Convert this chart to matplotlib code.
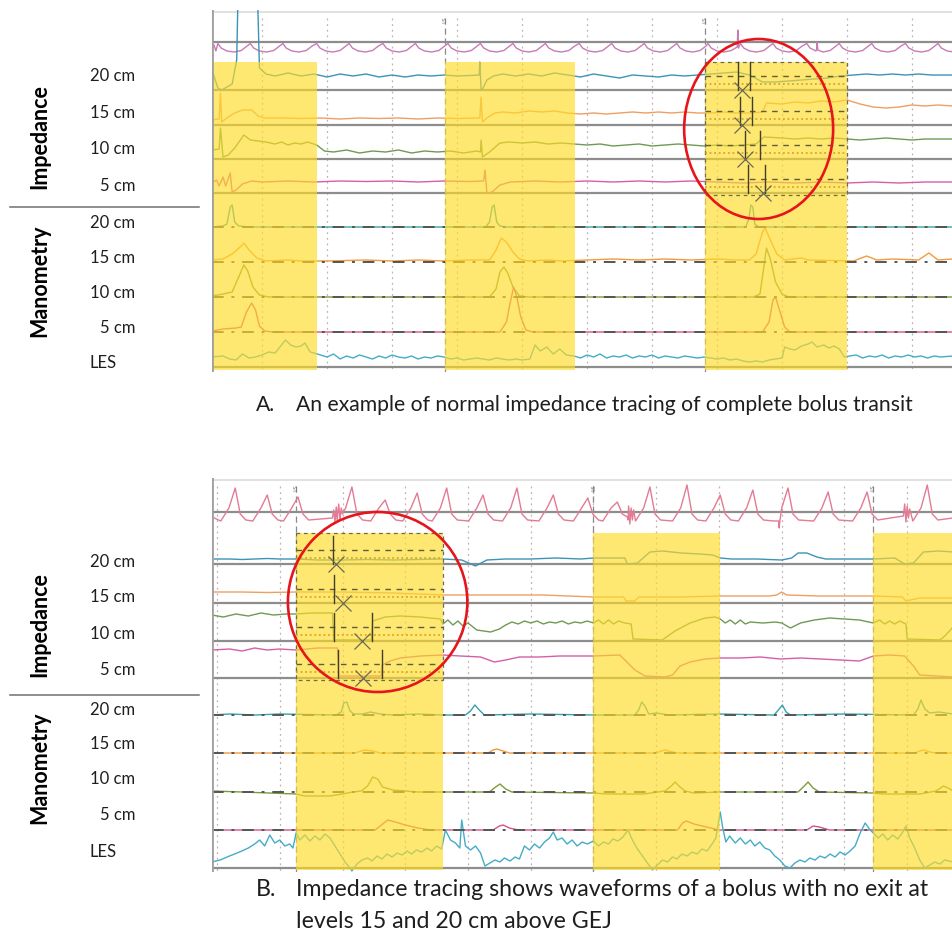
import numpy as np
import matplotlib.pyplot as plt
from matplotlib.patches import Ellipse, Rectangle

plt.rcParams['font.family'] = ['Lato', 'DejaVu Sans']

W, H = 953, 935

# ---------------- panel A (time in s, deflection above each channel line) ----------------
a_grid = [0, 5, 10, 15, 20, 25, 30, 35, 40, 45, 50]
a_ls = [14.07, 34.07]
a_bolus = [(-3.85, 4.2), (14.07, 24.07), (34.07, 45.0)]

a_beats = [-3.4, -0.9, 1.6, 4.2, 6.7, 9.3, 11.8, 14.3, 16.8, 19.3, 21.8, 24.4, 26.9,
           29.4, 31.9, 34.3, 36.8, 39.3, 41.9, 44.4, 46.9, 49.5, 52.0]
a_beat_shape = [(0.0, -1.5), (0.25, -6), (0.7, -9), (1.25, -10), (1.8, -8.5), (2.25, -4)]
a_resp_extra = [(-3.85, -6), (-3.7, -3), (-3.55, -9), (36.55, -5), (36.6, 12), (36.65, -6),
                (42.65, -8), (42.7, 0), (42.75, -8)]

a_imp20 = [(-3.85, 20), (-3.4, 2), (-3.1, 0), (-2.3, 6), (-1.95, 30), (-1.85, 95), (-0.35, 95),
           (-0.2, 22), (0.3, 16), (1, 14), (2, 17), (3, 14), (4, 16), (5, 13), (6, 16), (7, 14),
           (8, 16), (9, 13), (10, 15), (11, 13), (12, 15), (13, 14), (14, 15), (15, 14),
           (16, 14.5), (16.7, 15), (16.75, 28), (16.85, 0), (17.0, 2), (17.3, 10), (17.8, 14),
           (18.5, 16), (19.5, 14), (20.5, 16), (21.5, 14), (22.5, 17), (23.5, 15), (24.5, 13),
           (25.5, 16), (26.5, 14), (27.5, 12), (28.5, 15), (29.5, 14), (30.5, 13), (31.5, 15),
           (32.5, 14), (33.5, 15), (34.5, 16), (35.5, 17), (36.5, 18), (37.5, 15), (38.5, 8),
           (39.5, 8), (40.5, 9), (41.5, 10), (42.5, 11), (43.5, 12), (44.5, 14), (45.5, 15),
           (46.5, 16), (47.5, 15), (48.5, 16), (49.5, 15), (50.5, 16), (51.5, 15), (53.15, 15)]
a_imp15 = [(-3.85, 5), (-3.3, 6), (-3.2, 32), (-3.1, 3), (-2.6, 8), (-2.1, 12), (-1.5, 15),
           (-0.8, 15), (-0.3, 9), (0.2, 7), (1.5, 7), (3, 6.5), (4.5, 7), (6, 6), (7.5, 7),
           (9, 6.5), (10.5, 7), (12, 6), (13.5, 7), (15, 6.5), (16.75, 7), (16.85, 28),
           (16.95, 3), (17.4, 8), (17.9, 12), (18.5, 13), (19.5, 12), (20.5, 14), (21.5, 13),
           (22.5, 14), (23.5, 12), (24.5, 11), (25.5, 12), (26.5, 11), (27.5, 12), (28.5, 13),
           (29.5, 12), (30.5, 13), (31.5, 12), (32.5, 13), (33.5, 12), (34.5, 12), (35.5, 13),
           (36.5, 12), (37.5, 12), (38.5, 13), (38.8, 22), (40, 21), (41, 23), (42, 22),
           (43, 24), (44, 23), (45, 25), (46, 21), (47, 18), (48, 17), (49, 18), (50, 20),
           (51, 19), (52, 20), (53.15, 19)]
a_imp10 = [(-3.85, 9), (-3.3, 10), (-3.2, 31), (-3.0, 2), (-2.6, 4), (-2.1, 11), (-1.4, 24),
           (-0.9, 19), (-0.3, 18), (0.3, 17), (1, 15), (1.5, 17), (2, 14), (2.5, 16), (3, 15),
           (3.5, 17), (4.2, 14), (4.8, 8), (5.5, 7), (6.5, 9), (7.5, 6), (8.5, 8), (9.5, 7),
           (10.5, 9), (11.5, 6), (12.5, 8), (13.5, 7), (14.5, 8), (15.5, 6), (16.5, 8),
           (16.8, 7), (16.85, 19), (16.95, 2), (17.5, 7), (18.3, 16), (19, 17), (20, 16),
           (21, 17), (22, 15), (23, 16), (24, 15), (25, 14), (26, 15), (27, 13), (28, 14),
           (29, 15), (30, 13), (31, 14), (32, 15), (33, 14), (34, 13), (35, 14), (36, 13),
           (37, 14), (38, 15), (38.6, 22), (40, 21), (41, 20), (42, 21), (43, 20), (44, 21),
           (45, 20), (46, 19), (47, 20), (48, 21), (49, 20), (50, 19), (51, 20), (53.15, 20)]
a_imp5 = [(-3.85, 10), (-3.5, 13), (-3.3, 7), (-3.0, 16), (-2.8, 7), (-2.45, 20), (-2.3, 1),
          (-2.0, 3), (-1.5, 9), (-0.8, 12), (0, 11), (2, 12), (4, 11), (6, 12), (8, 11.5),
          (10, 12), (12, 11), (14, 12), (16, 11.5), (17.05, 12), (17.15, 23), (17.3, 0),
          (17.7, 1), (18.3, 8), (19.1, 11), (21, 12), (23, 11), (25, 12), (27, 11), (29, 12),
          (31, 11), (33, 12), (35, 11), (37, 10), (39, 11), (41, 10), (43, 11), (45, 10),
          (47, 11), (49, 10), (51, 11), (53.15, 11)]

a_man20 = [(-3.85, 0), (-3.0, 1), (-2.7, 3), (-2.45, 20), (-2.3, 22), (-2.1, 5), (-1.8, 1),
           (-1.0, 0), (17.2, 0), (17.5, 5), (17.7, 20), (17.85, 22), (18.05, 5), (18.3, 1),
           (18.8, 0), (37.2, 0), (37.45, 8), (37.6, 22), (37.75, 20), (37.9, 3), (38.2, 0),
           (53.15, 0)]
a_man15 = [(-3.85, 2), (-3.0, 3), (-2.3, 8), (-1.6, 16), (-1.4, 19), (-1.0, 12), (-0.4, 4),
           (0.3, 1), (2, 2), (3, 1), (5, 1), (8, 2), (10, 1), (12, 2), (14, 1), (16, 2),
           (17.5, 2), (18.0, 12), (18.4, 24), (18.8, 20), (19.3, 10), (19.8, 3), (20.5, 1),
           (22, 2), (23, 1), (25, 2), (27, 3), (29, 2), (31, 3), (33, 2), (35, 3), (36.5, 2),
           (37.5, 2), (38.0, 8), (38.5, 30), (38.7, 34), (39.1, 22), (39.6, 8), (40.2, 2),
           (41.5, 4), (42, 2), (45.5, 1), (46.5, 6), (47.3, 2), (48.5, 3), (50.5, 2),
           (51.3, 9), (52.0, 2), (53.15, 3)]
a_man10 = [(-3.85, 1), (-3.0, 3), (-2.3, 5), (-1.8, 20), (-1.4, 32), (-1.1, 26), (-0.7, 10),
           (-0.2, 2), (0.5, 0), (17.5, 0), (18.0, 8), (18.3, 25), (18.6, 30), (18.9, 24),
           (19.3, 10), (19.8, 1), (20.5, 0), (37.8, 0), (38.3, 3), (38.6, 30), (38.8, 49),
           (39.1, 38), (39.5, 15), (40.0, 3), (40.5, 0), (53.15, 0)]
a_man5 = [(-3.85, 1), (-3.0, 3), (-2.0, 4), (-1.6, 5), (-1.2, 20), (-0.8, 29), (-0.5, 22),
          (-0.2, 6), (0.2, 1), (0.8, 0), (18.3, 0), (18.8, 10), (19.1, 30), (19.35, 45),
          (19.6, 35), (19.9, 15), (20.3, 2), (20.8, 0), (38.5, 0), (39.0, 10), (39.3, 32),
          (39.5, 35), (39.8, 22), (40.2, 5), (40.6, 0), (53.15, 0)]
a_les = [(-3.85, 10), (-3, 11), (-2.5, 8), (-2, 7), (-1.5, 13), (-1, 9), (-0.5, 10), (0, 12),
         (0.5, 15), (1, 14), (1.5, 22), (1.8, 27), (2.2, 22), (2.6, 20), (3, 21), (3.3, 24),
         (3.7, 15), (4, 14), (4.5, 12), (5, 10), (5.5, 13), (6, 8), (6.5, 11), (7, 9),
         (7.5, 12), (8, 10), (8.5, 8), (9, 11), (9.5, 9), (10, 12), (10.5, 10), (11, 9),
         (11.5, 11), (12, 8), (12.5, 10), (13, 9), (13.5, 11), (14, 10), (14.5, 8), (15, 9),
         (15.5, 7), (16, 8), (16.5, 9), (17, 8), (17.5, 7), (18, 9), (18.5, 8), (19, 7),
         (19.5, 8), (20, 7), (20.6, 8), (21.0, 22), (21.4, 16), (21.9, 20), (22.4, 13),
         (22.9, 18), (23.4, 12), (24, 11), (24.5, 9), (25, 12), (25.5, 10), (26, 13),
         (26.5, 9), (27, 11), (27.5, 10), (28, 12), (28.5, 9), (29, 11), (29.5, 10), (30, 12),
         (30.5, 9), (31, 11), (31.5, 10), (32, 9), (32.5, 11), (33, 10), (33.5, 9), (34, 10),
         (34.5, 9), (35, 8), (35.5, 9), (36, 7), (36.5, 8), (37, 6), (37.5, 5), (38, 6),
         (38.5, 5), (39, 7), (39.5, 8), (40.0, 9), (40.2, 20), (40.6, 18), (41.0, 17),
         (41.5, 21), (42.0, 23), (42.3, 25), (42.7, 20), (43.2, 22), (43.6, 19), (44.0, 21),
         (44.4, 18), (44.8, 10), (45.2, 11), (45.7, 12), (46.2, 9), (46.7, 11), (47.2, 10),
         (47.7, 12), (48.2, 9), (48.7, 11), (49.2, 10), (49.7, 12), (50.2, 10), (50.7, 11),
         (51.2, 9), (51.7, 11), (52.2, 10), (53.15, 11)]

# bolus-transit markers in the circled swallow (two cursor times, time of the X)
a_cursor = {'imp20': (36.6, 37.5, 36.9), 'imp15': (36.8, 37.7, 36.9),
            'imp10': (37.15, 38.3, 37.15), 'imp5': (37.4, 38.7, 38.5)}

# ---------------- panel B ----------------
b_grid = [0, 5, 10, 15, 20, 25, 30, 35, 40, 45, 50, 55]
b_ls = [6.3, 30.0, 52.3]
b_bolus = [(6.3, 18.0), (30.0, 40.1), (52.3, 58.65)]

b_peaks = [(1.45, 24), (4.0, 17), (6.45, 15), (10.75, 25), (13.4, 12), (15.95, 19), (18.3, 24),
           (21.2, 17), (23.9, 24), (26.8, 17), (29.55, 14), (31.9, 10), (34.5, 25), (37.45, 27),
           (40.1, 17), (42.7, 22), (45.5, 24), (48.7, 20), (51.8, 20), (56.6, 27)]
b_beat_shape = [(-1.15, -9), (-0.5, 4), (0.4, -2), (0.85, -8)]
b_resp_extra = [(-0.4, -5), (9.2, -6), (9.3, 2), (9.4, -10), (9.5, 5), (9.6, -4), (9.7, 8),
                (9.8, -8), (9.9, 4), (10.0, -2), (32.7, -5), (32.8, 6), (32.9, -12), (33.0, 4),
                (33.1, -8), (33.2, 2), (44.75, -9), (44.8, -16), (44.85, -9), (54.7, -4),
                (54.8, 8), (54.9, -10), (55.0, 6), (55.1, -6), (55.2, 3), (58.65, -6)]

b_imp20 = [(-0.4, 5), (1, 5), (2, 4.5), (3, 5), (4, 5.5), (5, 5), (6.3, 5), (8, 4), (10, 4),
           (12, 4.5), (14, 4), (16, 4.5), (18, 5), (19.5, 4), (20.6, -2), (21.5, 4), (23, 5),
           (25, 5), (27, 6), (29, 5), (30, 6), (32.5, 6), (32.7, 0), (33.5, 1), (34.5, 12),
           (35.5, 13), (37, 11), (38.5, 10), (39.5, 9), (40.1, 6), (41, 5), (43, 5), (45, 4),
           (45.8, 6), (46.3, 11), (47, 11), (47.8, 7), (48.5, 5), (50, 5), (52.3, 5), (54, 6),
           (54.8, 0), (55.5, 1), (56.3, 12), (57.5, 13), (58.65, 12)]
b_imp15 = [(-0.4, 11), (2, 11), (4, 10.5), (6.3, 11), (10, 11), (14, 10), (18, 8), (22, 8),
           (26, 8), (30, 6), (32.4, 6), (32.6, 2), (33.3, 2), (33.6, 6), (37, 6), (40, 7),
           (44, 7), (44.6, 8), (45, 11), (45.4, 8), (48, 7), (52.3, 7), (54.6, 6), (54.9, 2),
           (56, 5), (58.65, 5)]
b_imp10 = [(-0.4, 26), (0.5, 24), (1.5, 27), (2.5, 25), (3.5, 28), (4.5, 26), (5.5, 27),
           (6.3, 27), (7.5, 28), (9.2, 28), (9.3, 1), (12.3, 1), (12.4, 20), (13.4, 24),
           (14.6, 25), (16.2, 24), (17.8, 22), (18.0, 17), (18.4, 21), (18.8, 16), (19.2, 20),
           (19.6, 15), (20.0, 18), (20.7, 11), (21.8, 9), (22.5, 12), (23.0, 16), (23.5, 19),
           (24, 17), (24.5, 20), (25, 18), (25.5, 20), (26, 17), (26.5, 19), (27, 18),
           (27.5, 20), (28, 17), (28.5, 19), (29, 18), (29.5, 20), (30, 18), (30.4, 21),
           (30.8, 17), (31.2, 21), (31.6, 17), (32.0, 20), (32.5, 18), (33.0, 17), (33.15, 2),
           (35.5, 1), (35.7, 3), (36.5, 10), (37.7, 18), (38.9, 23), (39.7, 24), (40.1, 22),
           (40.5, 18), (40.9, 21), (41.3, 17), (41.7, 21), (42.1, 17), (42.5, 19), (43.5, 18),
           (44.5, 19), (45.0, 18), (45.7, 13), (46.5, 18), (47.6, 21), (48.8, 23), (50, 22),
           (51.2, 21), (52.3, 18), (52.8, 21), (53.2, 17), (53.6, 20), (54.0, 17), (54.4, 20),
           (54.9, 17), (55.0, 2), (57.6, 1), (58.0, 5), (58.65, 14)]
b_imp5 = [(-0.4, 28), (1, 29), (2, 27), (3, 30), (4, 28), (5, 29), (6.3, 28), (8, 30),
          (9.6, 30), (9.7, 2), (13.1, 2), (13.15, 13), (13.8, 17), (14.6, 20), (16.2, 22),
          (18.0, 23), (19.4, 22), (21, 21), (22.1, 16), (23, 18), (24.1, 21), (25.7, 21),
          (27.3, 22), (30, 22), (32.1, 23), (32.5, 18), (33.3, 8), (34.1, 2), (35.7, 1),
          (36.3, 3), (36.9, 12), (37.7, 16), (38.9, 19), (40.1, 20), (41.7, 20), (43.3, 21),
          (44.9, 19), (46.5, 20), (48.1, 19), (49.7, 18), (51.2, 17), (52.3, 22), (53.6, 23),
          (54.8, 22), (55.5, 12), (56, 3), (58.65, 1)]

b_man20 = [(-0.4, 0), (1, 1), (3, 0), (5, 1), (9.5, 0), (9.9, 3), (10.1, 12), (10.35, 13),
           (10.6, 4), (10.9, 1), (11.6, 1), (12.2, 3), (13, 1), (14, 0), (16, 1), (18, 0),
           (19.8, 0), (20.2, 4), (20.55, 10), (20.9, 5), (21.3, 0), (25, 1), (30, 0),
           (33.3, 0), (33.6, 5), (33.85, 13), (34.1, 9), (34.4, 1), (35, 2), (36, 0), (40, 1),
           (44.4, 0), (44.8, 6), (45.05, 10), (45.35, 3), (45.7, 0), (50, 1), (55.5, 0),
           (55.85, 6), (56.1, 15), (56.4, 6), (56.8, 2), (57.5, 3), (58.65, 1)]
b_man15 = [(-0.4, 0), (11, 0), (11.5, 2), (11.8, 3), (12.4, 2), (13, 0), (21.6, 0), (22.0, 3),
           (22.3, 4), (22.8, 2), (23.3, 0), (35.0, 0), (35.4, 2), (35.7, 3), (36.3, 1),
           (36.8, 0), (55.6, 0), (56.0, 2), (56.3, 3), (56.8, 1), (57.3, 0), (58.65, 0)]
b_man10 = [(-0.4, 1), (2, 0), (6.3, -2), (7, -4), (9, -4), (10, -2), (10.8, 0), (11.5, 1),
           (12.0, 6), (12.4, 15), (12.8, 13), (13.2, 5), (14, 2), (15, 1), (16, 0), (21.7, 0),
           (22.2, 5), (22.55, 8), (23.0, 3), (23.5, 0), (30, -1), (31, -2), (34, -2),
           (35.7, 1), (36.2, 6), (36.5, 10), (36.9, 5), (37.3, 1), (38, -1), (40, 0),
           (46.3, 0), (46.8, 6), (47.1, 10), (47.5, 4), (48, 0), (52.3, -1), (53, -2),
           (56, -2), (57.3, 1), (57.9, 6), (58.4, 3), (58.65, 1)]
b_man5 = [(-0.4, 0), (12.6, 0), (13.2, 6), (13.6, 10), (14.2, 8), (15, 5), (16, 2), (17, 0),
          (22, 0), (22.5, 4), (22.8, 5), (23.3, 2), (24, 0), (36.7, 0), (37.1, 7), (37.4, 9),
          (38, 6), (39, 3), (40, 0), (47, 0), (47.5, 4), (48, 3), (48.8, 0), (58.65, 0)]
b_les = [(-0.4, 6), (0.25, 8), (1.0, 12), (1.8, 16), (2.5, 20), (3.0, 24), (3.4, 28),
         (3.8, 22), (4.2, 33), (4.6, 25), (5.0, 28), (5.4, 22), (5.8, 24), (6.05, 20),
         (6.3, 35), (6.6, 28), (7.0, 33), (7.4, 27), (7.8, 32), (8.2, 28), (8.6, 34), (9.0, 30),
         (9.4, 22), (9.8, 14), (10.2, 6), (10.6, 0), (10.75, -3), (11.15, 4), (11.55, 8),
         (12.0, 10), (12.35, 7), (12.75, 12), (13.15, 9), (13.55, 14), (13.95, 11),
         (14.35, 15), (14.75, 13), (15.15, 17), (15.5, 14), (15.9, 18), (16.3, 16),
         (16.75, 20), (17.1, 17), (17.5, 22), (17.9, 19), (18.2, 38), (18.6, 28), (19.0, 25),
         (19.35, 20), (19.5, 48), (19.8, 22), (20.2, 18), (20.6, 22), (21.0, 15), (21.35, 2),
         (21.75, 5), (22.15, 8), (22.55, 6), (22.9, 10), (23.35, 7), (23.75, 11), (24.1, 9),
         (24.5, 22), (24.9, 18), (25.3, 24), (25.7, 20), (26.1, 26), (26.5, 30), (26.8, 36),
         (27.1, 28), (27.5, 30), (27.9, 24), (28.3, 28), (28.7, 22), (29.1, 26), (29.5, 24),
         (30.0, 27), (30.4, 22), (30.8, 26), (31.2, 24), (31.55, 29), (31.95, 27),
         (32.35, 31), (32.75, 38), (33.1, 28), (33.45, 20), (33.9, 12), (34.3, 5), (34.7, -2),
         (35.1, 3), (35.5, 8), (35.9, 6), (36.3, 11), (36.65, 9), (37.05, 14), (37.45, 12),
         (37.85, 16), (38.25, 14), (38.65, 19), (39.05, 17), (39.45, 24), (39.75, 30),
         (40.1, 56), (40.3, 40), (40.55, 26), (40.85, 32), (41.3, 25), (41.7, 30), (42.1, 24),
         (42.5, 28), (42.85, 22), (43.25, 26), (43.65, 20), (44.05, 18), (44.45, 12),
         (44.85, 8), (45.25, 2), (45.65, 0), (46.05, 5), (46.45, 8), (46.85, 6), (47.25, 10),
         (47.65, 8), (48.05, 12), (48.45, 10), (48.85, 14), (49.25, 11), (49.65, 16),
         (50.05, 13), (50.45, 17), (50.85, 22), (51.25, 35), (51.65, 45), (52.05, 38),
         (52.3, 35), (52.7, 30), (53.05, 34), (53.45, 28), (53.85, 33), (54.25, 29),
         (54.65, 36), (54.9, 42), (55.2, 30), (55.6, 20), (56.0, 8), (56.4, 0), (56.8, 3),
         (57.2, 6), (57.6, 4), (58.0, 8), (58.65, 6)]

b_cursor = {'imp20': (9.25, None, 9.5), 'imp15': (9.3, None, 10.0),
            'imp10': (9.3, 12.35, 11.55), 'imp5': (9.65, 13.15, 11.65)}

# ---------------- style / layout ----------------
colors = {'resp_a': '#c77cb3', 'resp_b': '#e27b93', 'imp20': '#3d93b8', 'imp15': '#ee9f62',
          'imp10': '#6f9a55', 'imp5': '#d45fa6', 'man20': '#35a3a8', 'man15': '#f39a3c',
          'man10': '#7d9a3a', 'man5': '#d8508a', 'les': '#44acc8'}
YELLOW = '#ffdc28'
GRAYLINE = '#8d8d8d'

fig = plt.figure(figsize=(W / 100, H / 100), dpi=100)


def panel(top, bottom, tmin, tmax):
    ax = fig.add_axes([212 / W, 1 - bottom / H, (953 - 212) / W, (bottom - top) / H])
    ax.set_xlim(tmin, tmax)
    ax.set_ylim(bottom, top)
    ax.axis('off')
    return ax


def trace(ax, pts, ref, color, lw=1.0):
    t, v = np.array(pts, dtype=float).T
    ax.plot(t, ref - v, color=color, lw=lw, zorder=3, solid_joinstyle='round')


def beats(times, shape, extra, heights=None):
    pts = list(extra)
    for i, bt in enumerate(times):
        for dt, v in shape:
            pts.append((bt + dt, v))
        if heights is not None:
            pts.append((bt, heights[i]))
    pts.sort()
    return pts


def draw(ax, tmin, tmax, top, bottom, lines, imp, man, les, resp, grid, ls, bolus,
         ybol, box, cursor, ell):
    # frame
    ax.plot([tmin, tmax], [top + 2, top + 2], color='#dcdcdc', lw=1.2, zorder=1)
    ax.plot([tmin, tmin], [top, bottom], color='#a0a0a0', lw=2, zorder=6)
    for g in grid:
        ax.plot([g, g], [top + 8, bottom], color='#c4b0b4', lw=0.9, ls=(0, (1.5, 3)), zorder=1)
    for s in ls:
        ax.plot([s, s], [top + 8, bottom], color='#8a8a8a', lw=0.9, ls=(0, (5, 3)), zorder=1)
        ax.text(s, top + 10, 'LS', rotation=90, fontsize=4.5, color='#777777',
                ha='center', va='center', zorder=2)
    # channel lines
    for k in ['resp', 'imp20', 'imp15', 'imp10', 'imp5', 'les']:
        ax.plot([tmin, tmax], [lines[k], lines[k]], color=GRAYLINE, lw=1.6, zorder=2)
    # traces
    trace(ax, resp[0], lines['resp'], resp[1])
    for k, pts in imp.items():
        trace(ax, pts, lines[k], colors[k])
    for k, pts in man.items():
        trace(ax, pts, lines[k], colors[k])
        ax.plot([tmin, tmax], [lines[k], lines[k]], color='#555555', lw=1.4,
                ls=(0, (6, 4, 1.5, 4)), zorder=3.5)
    trace(ax, les, lines['les'], colors['les'])
    # bolus windows
    for t0, t1 in bolus:
        ax.add_patch(Rectangle((t0, ybol), t1 - t0, bottom - 2 - ybol, facecolor=YELLOW,
                               edgecolor='none', alpha=0.66, zorder=4))
    # analysis box
    bt0, bt1, by0, by1 = box
    ax.add_patch(Rectangle((bt0, by0), bt1 - bt0, by1 - by0, facecolor='none',
                           edgecolor='#6b6b50', lw=0.9, ls=(0, (3, 3)), zorder=6))
    for k, (c0, c1, cx) in cursor.items():
        ref = lines[k]
        ax.plot([bt0, bt1], [ref - 14, ref - 14], color='#5e5e3c', lw=1.0,
                ls=(0, (4, 4)), zorder=6)
        ax.plot([bt0, bt1], [ref - 6, ref - 6], color='#d39a1a', lw=1.1,
                ls=(0, (1.2, 1.8)), zorder=6)
        for c in (c0, c1):
            if c is not None:
                ax.plot([c, c], [ref - 28, ref], color='#3f3f2a', lw=1.0, zorder=6)
        ax.plot([cx], [ref], marker='x', ms=11, mew=0.9, color='#6a6a55', zorder=6)
    ex, ey, ew, eh = ell
    ax.add_patch(Ellipse((ex, ey), ew, eh, facecolor='none', edgecolor='#e5151b', lw=1.9,
                         zorder=8, clip_on=False))


# panel A
a_lines = {'resp': 42, 'imp20': 90, 'imp15': 125, 'imp10': 159, 'imp5': 193,
           'man20': 227, 'man15': 262, 'man10': 297, 'man5': 332, 'les': 367}
axA = panel(10, 372, -3.85, 53.15)
draw(axA, -3.85, 53.15, 10, 372, a_lines,
     {'imp20': a_imp20, 'imp15': a_imp15, 'imp10': a_imp10, 'imp5': a_imp5},
     {'man20': a_man20, 'man15': a_man15, 'man10': a_man10, 'man5': a_man5},
     a_les, (beats(a_beats, a_beat_shape, a_resp_extra), colors['resp_a']),
     a_grid, a_ls, a_bolus, 62, (34.07, 45.0, 62, 195), a_cursor,
     (38.2, 129, 11.46, 180))

# panel B
b_lines = {'resp': 512, 'imp20': 564, 'imp15': 603, 'imp10': 641, 'imp5': 678,
           'man20': 715, 'man15': 753, 'man10': 792, 'man5': 830, 'les': 868}
b_times = [p[0] for p in b_peaks]
b_heights = [p[1] for p in b_peaks]
axB = panel(478, 872, -0.4, 58.65)
draw(axB, -0.4, 58.65, 478, 872, b_lines,
     {'imp20': b_imp20, 'imp15': b_imp15, 'imp10': b_imp10, 'imp5': b_imp5},
     {'man20': b_man20, 'man15': b_man15, 'man10': b_man10, 'man5': b_man5},
     b_les, (beats(b_times, b_beat_shape, b_resp_extra, b_heights), colors['resp_b']),
     b_grid, b_ls, b_bolus, 533, (6.3, 18.0, 533, 680), b_cursor,
     (12.8, 602, 14.3, 180))

# ---------------- labels ----------------
row_labels = ['20 cm', '15 cm', '10 cm', '5 cm']
a_label_y = {'imp': [76, 113, 149, 186], 'man': [223, 258, 293, 328], 'les': 363,
             'sep': 207, 'title_imp': 137, 'title_man': 281}
b_label_y = {'imp': [562, 597, 634, 670], 'man': [710, 744, 779, 815], 'les': 852,
             'sep': 695, 'title_imp': 625, 'title_man': 768}
TXT = '#1e1e1e'
for ly in (a_label_y, b_label_y):
    for lab, y in zip(row_labels, ly['imp']):
        fig.text(135 / W, 1 - y / H, lab, ha='right', va='center', fontsize=12, color=TXT)
    for lab, y in zip(row_labels, ly['man']):
        fig.text(135 / W, 1 - y / H, lab, ha='right', va='center', fontsize=12, color=TXT)
    fig.text(90 / W, 1 - ly['les'] / H, 'LES', ha='left', va='center', fontsize=12, color=TXT)
    fig.add_artist(plt.Line2D([10 / W, 199 / W], [1 - ly['sep'] / H] * 2, color='#707070', lw=1.1))
    fig.text(40 / W, 1 - ly['title_imp'] / H, 'Impedance', rotation=90, ha='center',
             va='center', fontsize=15.5, fontweight='bold', color='black')
    fig.text(40 / W, 1 - ly['title_man'] / H, 'Manometry', rotation=90, ha='center',
             va='center', fontsize=15.5, fontweight='bold', color='black')

CAP = 15.2
CAP_B = 16.7
fig.text(256 / W, 1 - 405 / H, 'A.', ha='left', va='center', fontsize=CAP, color=TXT)
fig.text(296 / W, 1 - 405 / H, 'An example of normal impedance tracing of complete bolus transit',
         ha='left', va='center', fontsize=CAP, color=TXT)
fig.text(256 / W, 1 - 890 / H, 'B.', ha='left', va='center', fontsize=CAP_B, color=TXT)
fig.text(296 / W, 1 - 890 / H, 'Impedance tracing shows waveforms of a bolus with no exit at',
         ha='left', va='center', fontsize=CAP_B, color=TXT)
fig.text(296 / W, 1 - 921 / H, 'levels 15 and 20 cm above GEJ',
         ha='left', va='center', fontsize=CAP_B, color=TXT)

fig.savefig('out.png', dpi=100)
